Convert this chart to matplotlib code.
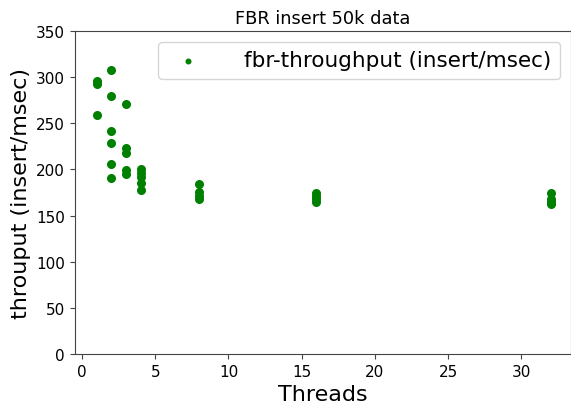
import matplotlib
matplotlib.use("Agg")
import matplotlib.pyplot as plt

# threads and measured throughput (insert/msec)
threads = [1, 1, 1,
           2, 2, 2, 2, 2, 2,
           3, 3, 3, 3, 3,
           4, 4, 4, 4, 4,
           8, 8, 8, 8,
           16, 16, 16, 16,
           32, 32, 32, 32]
throughput = [296, 293, 259,
              308, 280, 242, 229, 206, 191,
              271, 223, 218, 199, 195,
              200, 196, 192, 185, 178,
              184, 176, 171, 168,
              175, 171, 168, 165,
              175, 168, 165, 163]

fig = plt.figure(figsize=(5.71, 4.1), dpi=100)
ax = fig.add_axes([0.131, 0.134, 0.869, 0.788])
ax.scatter(threads, throughput, color='green', s=30, label='fbr-throughput (insert/msec)')
ax.set_ylim(0, 350)
ax.set_xlim(-0.5, 33.4)
ax.set_title('FBR insert 50k data', fontsize=12.8)
ax.set_xlabel('Threads', fontsize=16)
ax.set_ylabel('throuput (insert/msec)', fontsize=16)
for sp in ax.spines.values():
    sp.set_color('#444444')
ax.tick_params(color='#444444', labelsize=11)
ax.legend(loc='upper right', fontsize=15.5, markerscale=0.6, handletextpad=1.6)
fig.savefig('out.png')
